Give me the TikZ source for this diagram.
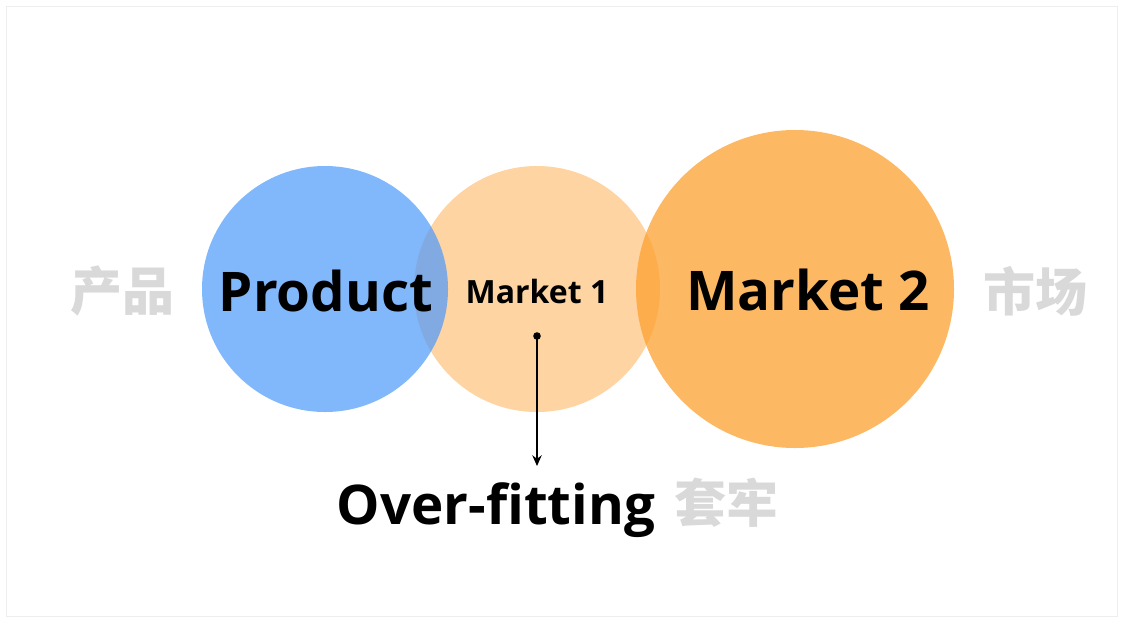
\documentclass[tikz,border=0pt]{standalone}
\usepackage{fontspec}
\setmainfont{Open Sans}
\newfontfamily\cjk{Noto Sans CJK SC}
\usetikzlibrary{arrows.meta,positioning}
\definecolor{prodcolor}{RGB}{80,155,250}
\definecolor{mktcolor}{RGB}{253,160,48}
\definecolor{hintcolor}{RGB}{217,217,217}
\definecolor{framecolor}{RGB}{238,238,238}

\begin{document}
\begin{tikzpicture}[x=0.75pt,y=-0.75pt,
    big/.style={font=\fontsize{41}{46}\selectfont\bfseries, inner sep=0pt, anchor=base},
    small/.style={font=\fontsize{24}{28}\selectfont\bfseries, inner sep=0pt, anchor=base},
    hint/.style={font=\cjk\fontsize{39}{42}\selectfont\bfseries, text=hintcolor, inner sep=0pt}]
    \useasboundingbox (0,0) rectangle (1123,622);
    \draw[framecolor, line width=1.1pt] (6.5,6.5) rectangle (1117.5,616.5);
    % circles
    \fill[mktcolor, opacity=0.45] (537,289) circle (123);
    \fill[prodcolor, opacity=0.72] (325,289) circle (123);
    \fill[mktcolor, opacity=0.75] (795,289) circle (159);
    % labels
    \node[big] (product) at (326,311) {Product};
    \node[small] (market1) at (537,303) {Market 1};
    \node[big] (market2) at (808,310) {Market 2};
    \node[big] (overfit) at (496,524) {Over-fitting};
    \node[hint] (prodcn) at (122,291) {产品};
    \node[hint] (mktcn) at (1035,291) {市场};
    \node[hint] (overcn) at (726,503) {套牢};
    % arrow
    \coordinate (dot) at (537,336);
    \coordinate (tip) at (537,466);
    \fill (dot) circle (3.8);
    \draw[line width=1.8pt, -{Stealth[length=8pt,width=7pt]}] (dot) -- (tip);
\end{tikzpicture}
\end{document}
